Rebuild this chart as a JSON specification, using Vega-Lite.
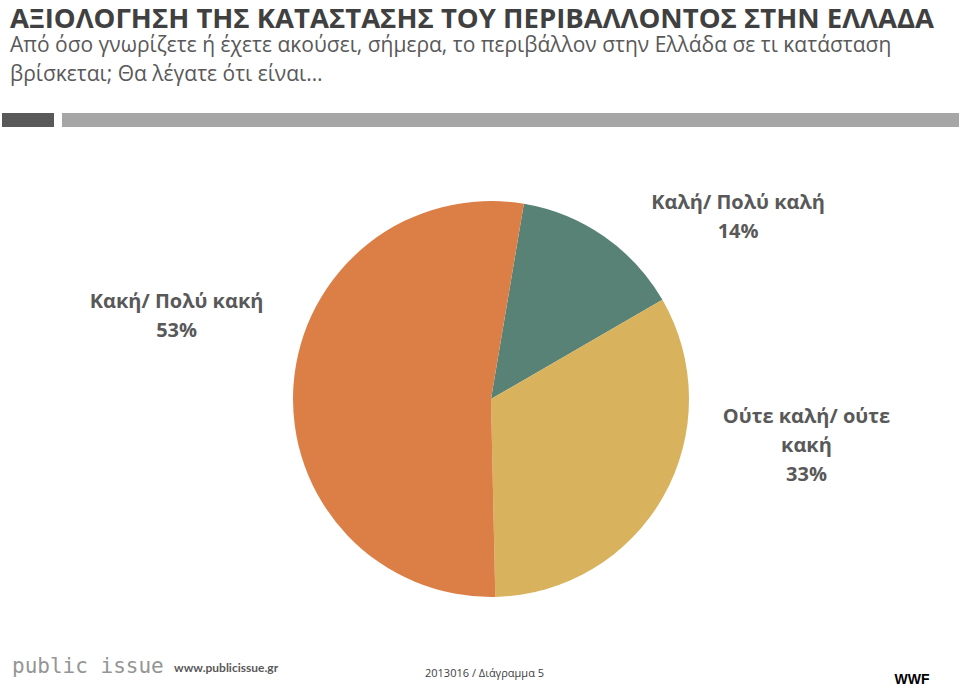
{
  "$schema": "https://vega.github.io/schema/vega-lite/v6.json",
  "width": 936,
  "height": 580,
  "autosize": "none",
  "padding": {"left": 23, "top": 109, "right": 0, "bottom": 0},
  "background": "white",
  "config": {"view": {"stroke": null}},
  "title": {
    "text": "ΑΞΙΟΛΟΓΗΣΗ ΤΗΣ ΚΑΤΑΣΤΑΣΗΣ ΤΟΥ ΠΕΡΙΒΑΛΛΟΝΤΟΣ ΣΤΗΝ ΕΛΛΑΔΑ",
    "subtitle": ["Από όσο γνωρίζετε ή έχετε ακούσει, σήμερα, το περιβάλλον στην Ελλάδα σε τι κατάσταση", "βρίσκεται; Θα λέγατε ότι είναι…"],
    "anchor": "start",
    "frame": "group",
    "dx": -13,
    "font": "Open Sans",
    "fontSize": 27.5,
    "fontWeight": "bold",
    "color": "#404040",
    "subtitleFont": "Open Sans",
    "subtitleFontSize": 21,
    "subtitleColor": "#595959",
    "subtitleLineHeight": 29,
    "subtitlePadding": 2,
    "offset": 20
  },
  "layer": [
    {
      "data": {"values": [
        {"category": "Καλή/ Πολύ καλή", "value": 0.14, "label": "Καλή/ Πολύ καλή\n14%"},
        {"category": "Ούτε καλή/ ούτε κακή", "value": 0.33, "label": "Ούτε καλή/ ούτε\nκακή\n33%"},
        {"category": "Κακή/ Πολύ κακή", "value": 0.53, "label": "Κακή/ Πολύ κακή\n53%"}
      ]},
      "encoding": {
        "theta": {"field": "value", "type": "quantitative", "stack": true, "scale": {"domain": [0, 1], "range": [0.1668, 6.45]}},
        "order": {"field": "value", "type": "quantitative", "sort": "ascending"},
        "detail": {"field": "category", "type": "nominal"}
      },
      "layer": [
        {
          "mark": {"type": "arc", "outerRadius": 198},
          "encoding": {
            "color": {
              "field": "category",
              "type": "nominal",
              "scale": {"domain": ["Καλή/ Πολύ καλή", "Ούτε καλή/ ούτε κακή", "Κακή/ Πολύ κακή"], "range": ["#578275", "#D8B25C", "#DC7F47"]},
              "legend": null
            }
          }
        },
        {
          "mark": {"type": "text", "radius": 230, "dx": 116, "dy": -7, "lineBreak": "\n", "font": "Open Sans", "fontSize": 20, "fontWeight": "bold", "color": "#595959", "lineHeight": 29, "align": "center", "baseline": "middle"},
          "encoding": {"text": {"condition": {"test": "datum.category === 'Καλή/ Πολύ καλή'", "field": "label"}, "value": ""}}
        },
        {
          "mark": {"type": "text", "radius": 230, "dx": 115, "dy": -95, "lineBreak": "\n", "font": "Open Sans", "fontSize": 20, "fontWeight": "bold", "color": "#595959", "lineHeight": 29, "align": "center", "baseline": "middle"},
          "encoding": {"text": {"condition": {"test": "datum.category === 'Ούτε καλή/ ούτε κακή'", "field": "label"}, "value": ""}}
        },
        {
          "mark": {"type": "text", "radius": 230, "dx": -85, "dy": -80, "lineBreak": "\n", "font": "Open Sans", "fontSize": 20, "fontWeight": "bold", "color": "#595959", "lineHeight": 29, "align": "center", "baseline": "middle"},
          "encoding": {"text": {"condition": {"test": "datum.category === 'Κακή/ Πολύ κακή'", "field": "label"}, "value": ""}}
        }
      ]
    },
    {
      "data": {"values": [{}]},
      "mark": {"type": "rect", "x": -21, "x2": 31, "y": 4, "y2": 18, "color": "#595959"}
    },
    {
      "data": {"values": [{}]},
      "mark": {"type": "rect", "x": 39, "x2": 936, "y": 4, "y2": 18, "color": "#A6A6A6"}
    },
    {
      "data": {"values": [{}]},
      "mark": {"type": "text", "x": -11, "y": 564, "text": "public issue", "font": "DejaVu Sans Mono", "fontSize": 21, "color": "#959595", "align": "left", "baseline": "alphabetic"}
    },
    {
      "data": {"values": [{}]},
      "mark": {"type": "text", "x": 151, "y": 563, "text": "www.publicissue.gr", "font": "Lato", "fontSize": 12, "fontWeight": "bold", "color": "#595959", "align": "left", "baseline": "alphabetic"}
    },
    {
      "data": {"values": [{}]},
      "mark": {"type": "text", "x": 402, "y": 568, "text": "2013016 / Διάγραμμα 5", "font": "Open Sans", "fontSize": 11, "color": "#404040", "align": "left", "baseline": "alphabetic"}
    },
    {
      "data": {"values": [{}]},
      "mark": {"type": "text", "x": 889, "y": 575, "text": "WWF", "font": "Liberation Sans", "fontSize": 14, "fontWeight": "bold", "color": "#000000", "align": "center", "baseline": "alphabetic"}
    }
  ]
}
